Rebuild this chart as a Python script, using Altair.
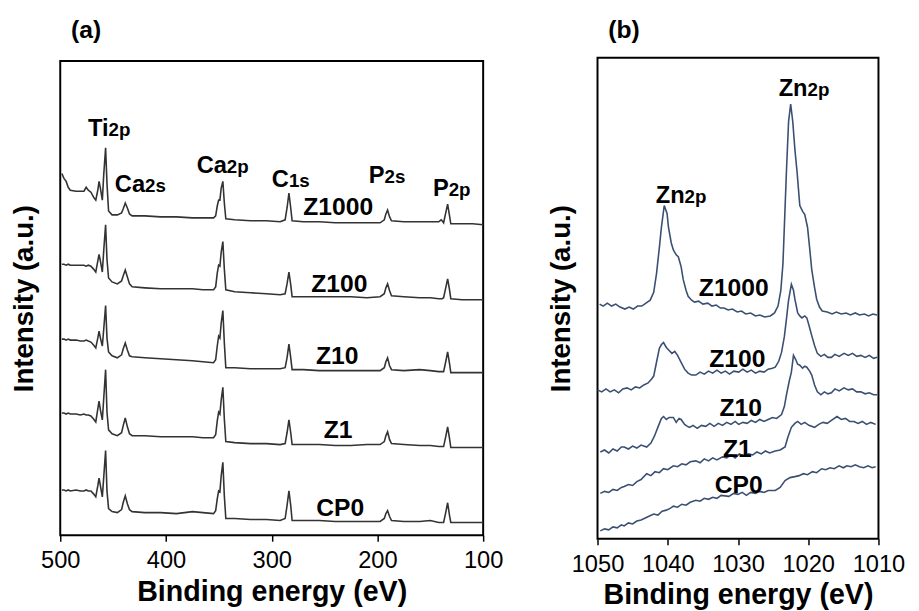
import altair as alt
import pandas as pd

FONT = "Liberation Sans"

# ---------------- panel (a): survey spectra ----------------
A_EV = [498.5, 496.5, 494.4, 492.5, 490.5, 485, 481, 477.6, 475.5, 473.5,
        471, 468.5, 466.4, 464.5, 463.3, 462.0, 460.2, 458.8, 457.1, 455.8,
        454.3, 451, 446, 442, 440.5, 438.5, 436.5, 434.5, 432, 420,
        405, 390, 375, 365, 355, 353, 351.5, 350.2, 349.0, 347.8,
        346.2, 344.8, 343.4, 335, 320, 305, 292, 287.3, 285.5, 283.7,
        282, 280.7, 270, 255, 240, 225, 210, 197.5, 193.5, 192,
        190.4, 188.5, 186.7, 175, 160, 150, 142, 139.8, 138.8, 137.4,
        135.4, 133.6, 131.8, 130.6, 120, 110, 100]
A_Z1000 = [367, 362, 359, 353, 350, 349, 349, 349, 353, 350,
           348, 343, 340, 350, 359, 352, 340, 367, 393, 357,
           329, 325, 325, 327, 331, 337, 332, 326, 324, 324,
           323, 323, 322, 322, 322, 324, 334, 340, 340, 352,
           359, 337, 321, 320, 319, 319, 318, 320, 332, 347,
           332, 319, 318, 318, 317, 317, 317, 317, 320, 326,
           330, 323, 319, 318, 318, 318, 318, 320, 319, 317,
           327, 336, 324, 316, 316, 316, 315]
A_Z100 = [275, 275, 274, 275, 274, 274, 274, 274, 273, 274,
          273, 270, 267, 278, 285, 278, 267, 290, 315, 280,
          261, 257, 255, 258, 263, 269, 262, 255, 252, 251,
          250, 250, 250, 249, 249, 252, 266, 274, 273, 287,
          298, 270, 249, 247, 246, 245, 244, 245, 255, 267,
          254, 242, 242, 242, 242, 242, 241, 242, 245, 251,
          255, 248, 243, 242, 241, 241, 240, 240, 240, 241,
          251, 260, 249, 240, 239, 239, 239]
A_Z10 = [199, 199, 198, 199, 198, 198, 197, 197, 198, 197,
         196, 193, 190, 200, 207, 200, 192, 210, 233, 200,
         186, 182, 180, 183, 189, 195, 188, 182, 181, 180,
         179, 178, 177, 176, 175, 178, 192, 202, 200, 215,
         228, 195, 170, 170, 169, 169, 169, 170, 180, 194,
         180, 168, 168, 167, 167, 167, 167, 167, 170, 176,
         180, 172, 168, 167, 168, 167, 166, 166, 166, 166,
         176, 186, 174, 165, 165, 165, 165]
A_Z1 = [124, 124, 123, 124, 123, 123, 122, 123, 122, 122,
        121, 118, 115, 128, 136, 127, 117, 140, 168, 125,
        107, 103, 101, 104, 111, 119, 110, 103, 101, 101,
        100, 100, 100, 99, 99, 102, 116, 125, 123, 137,
        150, 118, 95, 94, 93, 93, 92, 93, 104, 117,
        104, 92, 92, 92, 91, 91, 92, 92, 95, 101,
        105, 97, 93, 92, 91, 91, 90, 90, 90, 90,
        100, 110, 98, 89, 89, 89, 89]
A_CP0 = [46, 46, 45, 46, 45, 46, 45, 45, 46, 45,
         45, 42, 39, 50, 58, 50, 39, 60, 86, 45,
         27, 24, 23, 26, 33, 40, 32, 26, 24, 23,
         23, 22, 24, 23, 22, 25, 37, 45, 44, 60,
         74, 40, 17, 17, 16, 16, 15, 17, 30, 45,
         30, 15, 15, 15, 14, 14, 14, 14, 17, 22,
         25, 19, 15, 14, 14, 15, 13, 13, 13, 13,
         23, 33, 20, 13, 13, 13, 13]
A_SERIES = {"Z1000": A_Z1000, "Z100": A_Z100, "Z10": A_Z10, "Z1": A_Z1, "CP0": A_CP0}

A_PEAK_MAIN = ["Ti", "Ca", "Ca", "C", "P", "P"]
A_PEAK_SUB = ["2p", "2s", "2p", "1s", "2s", "2p"]
A_PEAK_EV = [454.3, 419.8, 342.4, 283.7, 193.2, 132.6]
A_PEAK_I = [405, 348, 368, 353, 357, 344]
A_SAMPLE_TXT = ["Z1000", "Z100", "Z10", "Z1", "CP0"]
A_SAMPLE_EV = [237.1, 236.1, 238.0, 237.1, 235.2]
A_SAMPLE_I = [325, 247, 174, 99, 20]
A_TICKS = [500, 400, 300, 200, 100]

# ---------------- panel (b): Zn 2p region ----------------
B_Z1000_EV = [1049.7, 1049.2, 1048.6, 1048.0, 1047.4, 1046.8, 1046.1, 1045.5, 1044.9, 1044.3,
              1043.7, 1043.1, 1042.5, 1042.0, 1041.6, 1041.2, 1040.9, 1040.5, 1040.1, 1039.9,
              1039.5, 1039.2, 1038.8, 1038.5, 1038.1, 1037.8, 1037.4, 1037.1, 1036.6, 1036.2,
              1035.6, 1035.0, 1034.3, 1033.7, 1033.1, 1032.5, 1032.0, 1031.4, 1030.8, 1030.1,
              1029.5, 1028.9, 1028.2, 1027.5, 1026.9, 1026.2, 1025.4, 1024.8, 1024.3, 1023.9,
              1023.6, 1023.1, 1022.8, 1022.5, 1022.2, 1021.9, 1021.6, 1021.2, 1020.8, 1020.5,
              1020.1, 1019.8, 1019.5, 1019.1, 1018.8, 1018.4, 1018.0, 1017.3, 1016.6, 1016.0,
              1015.3, 1014.6, 1014.0, 1013.3, 1012.7, 1012.0, 1011.4, 1010.8, 1010.2]
B_Z1000_I = [238, 236, 239, 236, 238, 235, 233, 235, 233, 236,
             236, 239, 242, 250, 269, 295, 316, 338, 330, 316,
             300, 293, 288, 286, 276, 263, 252, 246, 242, 240,
             241, 238, 239, 236, 237, 234, 234, 232, 233, 230,
             231, 228, 229, 226, 227, 225, 226, 229, 236, 252,
             279, 373, 423, 441, 423, 395, 373, 338, 332, 329,
             316, 295, 273, 255, 243, 235, 231, 230, 228, 230,
             228, 229, 227, 229, 227, 228, 226, 228, 227]
B_Z100_EV = [1050.0, 1049.4, 1048.8, 1048.2, 1047.6, 1047.0, 1046.4, 1045.8, 1045.2, 1044.6,
             1044.0, 1043.4, 1042.8, 1042.3, 1042.0, 1041.6, 1041.2, 1040.9, 1040.6, 1040.2,
             1039.8, 1039.4, 1039.0, 1038.6, 1038.1, 1037.6, 1037.1, 1036.6, 1036.0, 1035.4,
             1034.8, 1034.2, 1033.6, 1033.0, 1032.4, 1031.8, 1031.2, 1030.6, 1029.9, 1029.3,
             1028.7, 1028.1, 1027.5, 1026.9, 1026.3, 1025.7, 1025.1, 1024.7, 1024.2, 1023.8,
             1023.4, 1023.1, 1022.8, 1022.4, 1022.1, 1021.9, 1021.5, 1021.2, 1020.9, 1020.5,
             1020.2, 1019.8, 1019.5, 1019.1, 1018.7, 1018.2, 1017.7, 1017.2, 1016.7, 1016.2,
             1015.6, 1014.9, 1014.3, 1013.7, 1013.1, 1012.5, 1011.9, 1011.3, 1010.7, 1010.2]
B_Z100_I = [151, 149, 152, 149, 151, 148, 152, 153, 151, 154,
            153, 156, 158, 162, 165, 179, 193, 197, 199, 194,
            191, 188, 190, 186, 179, 172, 168, 166, 166, 169,
            167, 170, 168, 171, 168, 170, 167, 170, 169, 172,
            169, 171, 168, 170, 169, 172, 173, 174, 180, 189,
            205, 223, 242, 258, 252, 243, 229, 226, 224, 226,
            224, 214, 206, 196, 188, 185, 187, 184, 184, 187,
            185, 188, 186, 188, 185, 186, 184, 186, 183, 184]
B_Z10_EV = [1049.6, 1049.0, 1048.4, 1047.8, 1047.2, 1046.6, 1046.2, 1045.6, 1045.0, 1044.4,
            1043.8, 1043.0, 1042.4, 1041.9, 1041.3, 1040.9, 1040.6, 1040.2, 1039.8, 1039.2,
            1038.8, 1038.4, 1038.1, 1037.6, 1037.2, 1036.9, 1036.4, 1035.8, 1035.2, 1034.6,
            1034.0, 1033.4, 1032.8, 1032.2, 1031.6, 1031.0, 1030.4, 1029.9, 1029.3, 1028.7,
            1028.1, 1027.5, 1026.9, 1026.3, 1025.7, 1025.1, 1024.5, 1023.8, 1023.4, 1023.1,
            1022.7, 1022.4, 1022.1, 1021.8, 1021.5, 1021.2, 1020.8, 1020.5, 1020.2, 1019.8,
            1019.5, 1019.1, 1018.7, 1018.2, 1017.7, 1017.2, 1016.7, 1016.2, 1015.6, 1014.9,
            1014.3, 1013.7, 1013.1, 1012.5, 1011.9, 1011.3, 1010.7, 1010.2]
B_Z10_I = [88, 90, 87, 91, 89, 93, 93, 91, 94, 92,
           95, 93, 97, 104, 115, 122, 124, 121, 123, 123,
           118, 122, 121, 116, 114, 113, 115, 112, 115, 114,
           117, 114, 117, 115, 118, 116, 119, 116, 118, 117,
           120, 118, 121, 119, 121, 123, 122, 126, 134, 146,
           160, 169, 186, 182, 177, 176, 173, 175, 174, 170,
           166, 156, 149, 146, 149, 147, 148, 152, 150, 153,
           151, 152, 149, 149, 147, 148, 146, 146]
B_Z1_EV = [1049.6, 1049.0, 1048.4, 1047.8, 1047.2, 1046.6, 1046.2, 1045.6, 1045.0, 1044.4,
           1043.8, 1043.0, 1042.4, 1041.8, 1041.2, 1040.6, 1040.0, 1039.2, 1038.6, 1038.0,
           1037.4, 1036.8, 1036.0, 1035.4, 1034.8, 1034.2, 1033.6, 1033.0, 1032.2, 1031.6,
           1031.0, 1030.4, 1029.8, 1029.2, 1028.5, 1027.9, 1027.3, 1026.7, 1026.1, 1025.5,
           1024.7, 1024.0, 1023.3, 1022.9, 1022.4, 1021.9, 1021.5, 1021.0, 1020.5, 1019.9,
           1019.1, 1018.5, 1017.9, 1017.3, 1016.7, 1015.9, 1015.3, 1014.7, 1014.1, 1013.5,
           1012.9, 1012.3, 1011.7, 1011.1, 1010.4]
B_Z1_I = [46, 48, 47, 50, 49, 52, 53, 55, 54, 58,
          60, 66, 64, 68, 67, 71, 70, 74, 73, 76,
          75, 78, 79, 77, 81, 79, 82, 80, 83, 82,
          85, 82, 86, 84, 86, 85, 88, 86, 89, 87,
          89, 90, 93, 103, 113, 117, 119, 116, 118, 115,
          113, 116, 118, 117, 120, 124, 121, 122, 119, 119,
          117, 119, 116, 118, 116]
B_CP0_EV = [1049.6, 1049.0, 1048.4, 1047.8, 1047.2, 1046.6, 1046.2, 1045.6, 1045.0, 1044.4,
            1043.8, 1043.2, 1042.6, 1042.0, 1041.4, 1040.8, 1040.2, 1039.6, 1039.2, 1038.6,
            1038.0, 1037.4, 1036.8, 1036.0, 1035.4, 1034.8, 1034.2, 1033.6, 1033.0, 1032.4,
            1031.3, 1030.6, 1030.0, 1029.4, 1028.8, 1028.2, 1027.5, 1026.9, 1026.3, 1025.7,
            1024.7, 1024.0, 1023.3, 1022.6, 1021.9, 1021.3, 1020.7, 1020.1, 1019.4, 1018.8,
            1018.1, 1017.5, 1016.9, 1016.3, 1015.6, 1015.0, 1014.5, 1013.9, 1013.3, 1012.7,
            1012.1, 1011.5, 1010.9, 1010.4]
B_CP0_I = [8, 10, 9, 12, 11, 14, 13, 16, 15, 18,
           19, 21, 23, 25, 24, 28, 29, 31, 33, 32,
           35, 34, 37, 39, 38, 41, 40, 42, 41, 44,
           43, 46, 45, 47, 44, 47, 46, 48, 47, 49,
           49, 52, 59, 62, 63, 64, 66, 65, 68, 67,
           71, 70, 72, 71, 74, 72, 74, 73, 75, 73,
           72, 74, 72, 73]
B_SERIES = {"Z1000": (B_Z1000_EV, B_Z1000_I), "Z100": (B_Z100_EV, B_Z100_I),
            "Z10": (B_Z10_EV, B_Z10_I), "Z1": (B_Z1_EV, B_Z1_I), "CP0": (B_CP0_EV, B_CP0_I)}

B_PEAK_MAIN = ["Zn", "Zn"]
B_PEAK_SUB = ["2p", "2p"]
B_PEAK_EV = [1037.6, 1020.1]
B_PEAK_I = [341, 449]
B_SAMPLE_TXT = ["Z1000", "Z100", "Z10", "Z1", "CP0"]
B_SAMPLE_EV = [1030.6, 1030.1, 1029.6, 1030.1, 1029.9]
B_SAMPLE_I = [246, 174, 124, 83, 46]
B_TICKS = [1050, 1040, 1030, 1020, 1010]


def line_frame(series):
    rows = []
    for name, (evs, ints) in series.items():
        for k, (e, v) in enumerate(zip(evs, ints)):
            rows.append({"series": name, "idx": k, "ev": e, "I": v})
    return pd.DataFrame(rows)


def panel(lines_df, peak_df, sample_df, xdom, ymax, ticks, w, h, color, label, toff):
    x = alt.X("ev:Q",
              scale=alt.Scale(domain=xdom, reverse=True, nice=False, zero=False),
              axis=alt.Axis(values=ticks, format="d", title="Binding energy (eV)", grid=False,
                            domain=False, ticks=True, tickSize=6, tickWidth=1.5,
                            tickColor="black", labelFont=FONT, labelFontSize=24,
                            labelColor="black", labelPadding=8, labelFlush=False,
                            labelOverlap=False, titleFont=FONT, titleFontSize=29,
                            titleFontWeight="bold", titleColor="black", titlePadding=5))
    y = alt.Y("I:Q", scale=alt.Scale(domain=[0, ymax], nice=False, zero=False),
              axis=alt.Axis(title="Intensity (a.u.)", labels=False, ticks=False,
                            domain=False, grid=False, titleFont=FONT, titleFontSize=28,
                            titleFontWeight="bold", titleColor="black", titlePadding=22))
    lines = alt.Chart(lines_df).mark_line(color=color, strokeWidth=1.6).encode(
        x=x, y=y, detail="series:N", order="idx:Q")
    main = alt.Chart(peak_df).mark_text(font=FONT, fontWeight="bold", fontSize=24,
                                        align="right", baseline="alphabetic",
                                        color="black").encode(x=x, y=y, text="main:N")
    sub = alt.Chart(peak_df).mark_text(font=FONT, fontWeight="bold", fontSize=19,
                                       align="left", baseline="alphabetic",
                                       color="black").encode(x=x, y=y, text="sub:N")
    samp = alt.Chart(sample_df).mark_text(font=FONT, fontWeight="bold", fontSize=25,
                                          align="center", baseline="alphabetic",
                                          color="black").encode(x=x, y=y, text="txt:N")
    return alt.layer(lines, main, sub, samp).properties(
        width=w, height=h,
        title=alt.TitleParams(label, anchor="start", frame="group", dx=11, offset=toff,
                              font=FONT, fontSize=25, fontWeight="bold", color="black"))


a_lines = line_frame({k: (A_EV, v) for k, v in A_SERIES.items()})
a_peaks = pd.DataFrame({"main": A_PEAK_MAIN, "sub": A_PEAK_SUB, "ev": A_PEAK_EV, "I": A_PEAK_I})
a_samp = pd.DataFrame({"txt": A_SAMPLE_TXT, "ev": A_SAMPLE_EV, "I": A_SAMPLE_I})
b_lines = line_frame(B_SERIES)
b_peaks = pd.DataFrame({"main": B_PEAK_MAIN, "sub": B_PEAK_SUB, "ev": B_PEAK_EV, "I": B_PEAK_I})
b_samp = pd.DataFrame({"txt": B_SAMPLE_TXT, "ev": B_SAMPLE_EV, "I": B_SAMPLE_I})

pa = panel(a_lines, a_peaks, a_samp, [100, 500], 481, A_TICKS, 429, 481, "#333333", "(a)", 18)
pb = panel(b_lines, b_peaks, b_samp, [1010, 1050], 488, B_TICKS, 285, 488, "#3a4f72", "(b)", 15)

chart = alt.hconcat(pa, pb, spacing=116, bounds="flush", center=True).properties(
    padding={"left": 2, "top": 5, "right": 5, "bottom": 0}
).configure_view(stroke="black", strokeWidth=2)

chart.save("out.html", embed_options={"renderer": "svg", "actions": False})
